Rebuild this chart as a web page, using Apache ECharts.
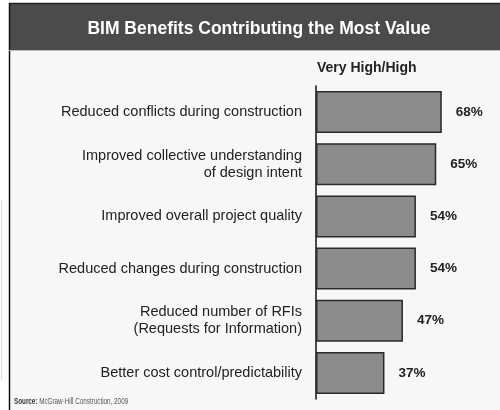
<!DOCTYPE html>
<html>
<head>
<meta charset="utf-8">
<script src="https://cdn.jsdelivr.net/npm/echarts@6/dist/echarts.min.js"></script>
<style>
html,body{margin:0;padding:0;background:#fff;}
#chart{width:500px;height:410px;}
</style>
</head>
<body>
<div id="chart"></div>
<script>
var titleText = 'BIM Benefits Contributing the Most Value';
var seriesName = 'Very High/High';
var sourceText = 'McGraw-Hill Construction, 2009';
var categories = [
  'Reduced conflicts during construction',
  'Improved collective understanding\nof design intent',
  'Improved overall project quality',
  'Reduced changes during construction',
  'Reduced number of RFIs\n(Requests for Information)',
  'Better cost control/predictability'
];
var values = [68, 65, 54, 54, 47, 37];

var chart = echarts.init(document.getElementById('chart'), null, {renderer: 'canvas'});
var font = 'Liberation Sans, Arial, Helvetica, sans-serif';
var narrow = 'Liberation Sans Narrow, Liberation Sans, sans-serif';
chart.setOption({
  backgroundColor: '#ffffff',
  animation: false,
  textStyle: {fontFamily: font},
  graphic: [
    {type: 'rect', z: -10, shape: {x: 9, y: 3, width: 491, height: 407}, style: {fill: '#f7f7f7'}},
    {type: 'rect', z: -5, shape: {x: 9, y: 3, width: 491, height: 47}, style: {fill: '#4b4b4b'}},
    {type: 'line', z: -4, shape: {x1: 9, y1: 3.5, x2: 500, y2: 3.5}, style: {stroke: '#222', lineWidth: 1.5}},
    {type: 'line', z: -4, shape: {x1: 9.5, y1: 3, x2: 9.5, y2: 410}, style: {stroke: '#111', lineWidth: 1.5}},
    {type: 'line', z: -4, shape: {x1: 9, y1: 50.5, x2: 500, y2: 50.5}, style: {stroke: '#bbb', lineWidth: 1}},
    {type: 'line', z: -4, shape: {x1: 1.5, y1: 200, x2: 1.5, y2: 380}, style: {stroke: '#ddd', lineWidth: 1}},
    {type: 'text', x: 14, y: 402, scaleX: 0.7, scaleY: 1, style: {
      text: '{b|Source:} ' + sourceText,
      rich: {b: {fontWeight: 'bold', fontSize: 9, fontFamily: narrow, fill: '#333'}},
      fontSize: 9, fontFamily: narrow, fill: '#555', verticalAlign: 'middle', align: 'left'
    }},
    {type: 'text', left: 317, top: 61, style: {
      text: seriesName, fontSize: 14, fontWeight: 'bold', fill: '#222', fontFamily: font
    }}
  ],
  title: {
    text: titleText,
    left: 254,
    top: 15,
    textAlign: 'center',
    textStyle: {color: '#ffffff', fontSize: 17.5, fontWeight: 'bold', fontFamily: font}
  },
  grid: {left: 316, right: 36, top: 86, bottom: 11, containLabel: false},
  xAxis: {
    type: 'value', min: 0, max: 80, show: false
  },
  yAxis: {
    type: 'category',
    data: categories,
    inverse: true,
    axisLine: {show: true, lineStyle: {color: '#111', width: 1.5}},
    axisTick: {show: false},
    axisLabel: {
      margin: 14, color: '#222', fontSize: 14.5, lineHeight: 17, align: 'right', fontFamily: font
    }
  },
  series: [{
    type: 'bar',
    name: seriesName,
    data: values,
    barWidth: 42,
    itemStyle: {color: '#8c8c8c', borderColor: '#2a2a2a', borderWidth: 1.5},
    label: {
      show: true, position: 'right', distance: 14,
      formatter: '{c}%', fontSize: 13.5, fontWeight: 'bold', color: '#222', fontFamily: font
    }
  }]
});
</script>
</body>
</html>
